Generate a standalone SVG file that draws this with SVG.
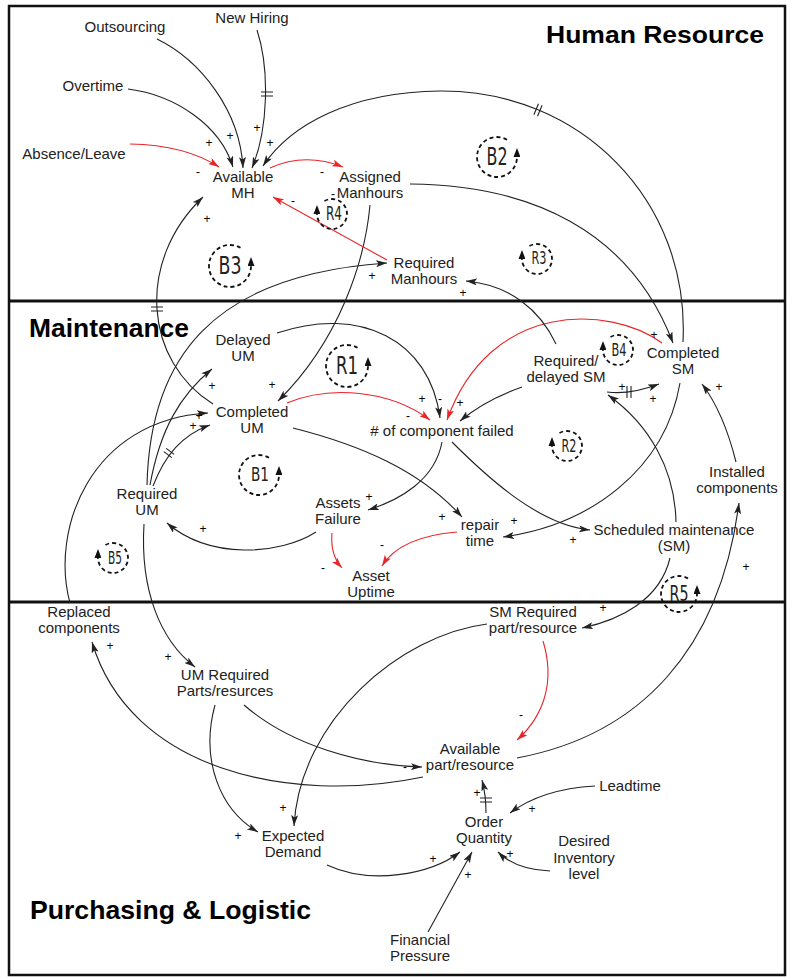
<svg xmlns="http://www.w3.org/2000/svg" width="794" height="977" viewBox="0 0 794 977">
<style>
.t{font-family:'Liberation Sans',Arial,sans-serif;font-size:15px;fill:#222;text-anchor:middle}
.h{font-family:'Liberation Sans',Arial,sans-serif;font-weight:bold;fill:#000}
.s{font-family:'Liberation Sans',Arial,sans-serif;font-size:12px;fill:#000;text-anchor:middle}
.c{fill:none;stroke:#222;stroke-width:1.1;marker-end:url(#ah)}
.r{fill:none;stroke:#e8262a;stroke-width:1.1;marker-end:url(#ahr)}
.d{fill:none;stroke:#222;stroke-width:1.1}
.lp{fill:none;stroke:#111;stroke-width:1.8;stroke-dasharray:4 3;marker-end:url(#al)}
.ll{font-family:'DejaVu Sans',sans-serif;fill:#222;text-anchor:middle}
</style>
<defs>
<marker id="ah" viewBox="0 0 11 7" refX="11" refY="3.5" markerWidth="11" markerHeight="7" markerUnits="userSpaceOnUse" orient="auto"><path d="M0,0 L11,3.5 L0,7 L2.5,3.5 z" fill="#222"/></marker>
<marker id="ahr" viewBox="0 0 11 7" refX="11" refY="3.5" markerWidth="11" markerHeight="7" markerUnits="userSpaceOnUse" orient="auto"><path d="M0,0 L11,3.5 L0,7 L2.5,3.5 z" fill="#e8262a"/></marker>
<marker id="al" viewBox="0 0 9 7" refX="0" refY="3.5" markerWidth="9" markerHeight="7" markerUnits="userSpaceOnUse" orient="auto"><path d="M0,0 L9,3.5 L0,7 z" fill="#111"/></marker>
</defs>
<rect width="794" height="977" fill="#fff"/>
<g id="frames" fill="none" stroke="#111">
<rect x="9" y="6" width="776" height="969" stroke-width="2.5"/>
<line x1="9" y1="301" x2="785" y2="301" stroke-width="3"/>
<line x1="9" y1="602" x2="785" y2="602" stroke-width="3"/>
</g>
<g id="titles">
<text class="h" x="546" y="43" font-size="23" textLength="218" lengthAdjust="spacingAndGlyphs">Human Resource</text>
<text class="h" x="29" y="337" font-size="25" textLength="160" lengthAdjust="spacingAndGlyphs">Maintenance</text>
<text class="h" x="30" y="919" font-size="25" textLength="281" lengthAdjust="spacingAndGlyphs">Purchasing &amp; Logistic</text>
</g>
<g id="connectors">
<path class="c" d="M157,39 C200,60 240,110 243,168"/>
<path class="c" d="M257,30 C270,70 268,130 252,168"/>
<path class="c" d="M128,89 C175,95 220,125 233,167"/>
<path class="c" d="M683,342 C690,200 580,90 440,91 C350,92 290,125 263,166"/>
<path class="c" d="M410,184 C530,185 630,230 673,343"/>
<path class="c" d="M370,205 C365,260 340,340 278,401"/>
<path class="r" d="M387,260 L273,197"/>
<path class="r" d="M270,168 Q305,152 343,167"/>
<path class="r" d="M130,144 Q185,145 219,167"/>
<path class="c" d="M213,404 C145,362 135,262 203,197"/>
<path class="c" d="M147,485 C150,360 210,275 387,263"/>
<path class="c" d="M150,485 C160,430 180,395 212,369"/>
<path class="c" d="M153,486 C165,455 182,435 210,425"/>
<path class="c" d="M70,603 C50,530 90,420 208,413"/>
<path class="c" d="M277,333 C360,305 430,340 440,418"/>
<path class="r" d="M287,403 C330,385 390,390 430,420"/>
<path class="r" d="M662,343 C610,305 490,300 447,420"/>
<path class="c" d="M522,387 Q485,400 460,421"/>
<path class="c" d="M442,442 C435,480 400,500 368,510"/>
<path class="c" d="M452,442 C490,480 540,525 590,530"/>
<path class="c" d="M293,428 C360,445 420,470 462,517"/>
<path class="c" d="M680,383 C665,470 590,525 503,537"/>
<path class="c" d="M316,532 C280,555 210,560 167,523"/>
<path class="r" d="M332,533 Q330,555 342,568"/>
<path class="r" d="M457,532 C420,535 395,545 382,566"/>
<path class="c" d="M607,392 Q630,395 659,384"/>
<path class="c" d="M676,522 C675,470 650,425 608,395"/>
<path class="c" d="M670,558 C660,600 620,620 582,628"/>
<path class="c" d="M736,462 C728,430 718,405 702,384"/>
<path class="c" d="M517,758 C640,735 720,650 739,503"/>
<path class="r" d="M543,641 C555,680 545,715 517,740"/>
<path class="c" d="M487,624 C400,635 300,720 294,826"/>
<path class="c" d="M215,705 C200,760 220,810 258,832"/>
<path class="c" d="M244,705 C290,745 360,765 422,767"/>
<path class="c" d="M423,777 C290,805 130,770 92,642"/>
<path class="c" d="M144,524 C140,590 160,640 195,667"/>
<path class="c" d="M486,813 Q486,795 482,780"/>
<path class="c" d="M595,786 C560,788 530,798 510,813"/>
<path class="c" d="M550,871 C525,870 508,862 498,852"/>
<path class="c" d="M428,932 L472,852"/>
<path class="c" d="M327,865 C370,885 430,875 460,852"/>
<path class="c" d="M556,344 C540,310 510,285 466,281"/>
<path class="d" d="M261,92 H273 M261,96 H273"/>
<path class="d" d="M538.5,103.7 L533.9,114.7 M542.1,105.3 L537.5,116.3"/>
<path class="d" d="M151,307 H163 M151,311 H163"/>
<path class="d" d="M163.8,451.6 L171.8,457.6 M166.2,448.4 L174.2,454.4"/>
<path class="d" d="M627,386 V398 M631,386 V398"/>
<path class="d" d="M480,798 H492 M480,802 H492"/>
</g>
<g id="signs">
<text class="s" x="209" y="147">+</text>
<text class="s" x="230" y="140">+</text>
<text class="s" x="257" y="132">+</text>
<text class="s" x="270" y="147">+</text>
<text class="s" x="198" y="176">-</text>
<text class="s" x="322" y="176">-</text>
<text class="s" x="293" y="205">-</text>
<text class="s" x="333" y="198">-</text>
<text class="s" x="207" y="223">+</text>
<text class="s" x="372" y="280">+</text>
<text class="s" x="463" y="297">+</text>
<text class="s" x="212" y="390">+</text>
<text class="s" x="272" y="389">+</text>
<text class="s" x="199" y="420">+</text>
<text class="s" x="193" y="430">+</text>
<text class="s" x="422" y="403">+</text>
<text class="s" x="440" y="403">-</text>
<text class="s" x="460" y="407">+</text>
<text class="s" x="408" y="420">-</text>
<text class="s" x="654" y="339">+</text>
<text class="s" x="622" y="391">+</text>
<text class="s" x="653" y="403">+</text>
<text class="s" x="719" y="391">+</text>
<text class="s" x="369" y="501">+</text>
<text class="s" x="203" y="533">+</text>
<text class="s" x="323" y="572">-</text>
<text class="s" x="382" y="549">-</text>
<text class="s" x="442" y="521">+</text>
<text class="s" x="514" y="525">+</text>
<text class="s" x="573" y="544">+</text>
<text class="s" x="746" y="571">+</text>
<text class="s" x="110" y="650">+</text>
<text class="s" x="168" y="661">+</text>
<text class="s" x="603" y="612">+</text>
<text class="s" x="521" y="719">-</text>
<text class="s" x="405" y="771">-</text>
<text class="s" x="283" y="812">+</text>
<text class="s" x="238" y="840">+</text>
<text class="s" x="477" y="797">+</text>
<text class="s" x="532" y="813">+</text>
<text class="s" x="510" y="858">+</text>
<text class="s" x="433" y="863">+</text>
<text class="s" x="468" y="879">+</text>
</g>
<g id="loops">
<g id="loop-B2"><path class="lp" d="M507,139.7 A20,20 0 1 0 517,157"/><text class="ll" x="497" y="165" font-size="24" textLength="21" lengthAdjust="spacingAndGlyphs">B2</text></g>
<g id="loop-R4"><path class="lp" d="M324.5,201 A15,15 0 1 1 317,214"/><text class="ll" x="334" y="220" font-size="20" textLength="16" lengthAdjust="spacingAndGlyphs">R4</text></g>
<g id="loop-B3"><path class="lp" d="M240.5,247.8 A21,21 0 1 0 251,266"/><text class="ll" x="230" y="274" font-size="25" textLength="23" lengthAdjust="spacingAndGlyphs">B3</text></g>
<g id="loop-R3"><path class="lp" d="M529.5,246 A15,15 0 1 1 522,259"/><text class="ll" x="539" y="264" font-size="18" textLength="15" lengthAdjust="spacingAndGlyphs">R3</text></g>
<g id="loop-R1"><path class="lp" d="M357.5,347.8 A21,21 0 1 0 368,366"/><text class="ll" x="347" y="374" font-size="25" textLength="22" lengthAdjust="spacingAndGlyphs">R1</text></g>
<g id="loop-B1"><path class="lp" d="M269,457.7 A20,20 0 1 0 279,475"/><text class="ll" x="260" y="481" font-size="19" textLength="18" lengthAdjust="spacingAndGlyphs">B1</text></g>
<g id="loop-B5"><path class="lp" d="M105.5,545 A15,15 0 1 1 98,558"/><text class="ll" x="115" y="564" font-size="17" textLength="14" lengthAdjust="spacingAndGlyphs">B5</text></g>
<g id="loop-B4"><path class="lp" d="M610.5,337 A15,15 0 1 1 603,350"/><text class="ll" x="619" y="356" font-size="18" textLength="15" lengthAdjust="spacingAndGlyphs">B4</text></g>
<g id="loop-R2"><path class="lp" d="M559.5,433 A15,15 0 1 1 552,446"/><text class="ll" x="569" y="452" font-size="18" textLength="15" lengthAdjust="spacingAndGlyphs">R2</text></g>
<g id="loop-R5"><path class="lp" d="M688,578.4 A18,18 0 1 0 697,594"/><text class="ll" x="679" y="601" font-size="21" textLength="19" lengthAdjust="spacingAndGlyphs">R5</text></g>
</g>
<g id="nodes">
<g id="n-outsourcing"><text class="t" x="125" y="32">Outsourcing</text></g>
<g id="n-newhiring"><text class="t" x="252" y="23">New Hiring</text></g>
<g id="n-overtime"><text class="t" x="93" y="91">Overtime</text></g>
<g id="n-absence"><text class="t" x="74" y="159">Absence/Leave</text></g>
<g id="n-availmh"><text class="t" x="243" y="182">Available</text><text class="t" x="243" y="198">MH</text></g>
<g id="n-assigned"><text class="t" x="370" y="182">Assigned</text><text class="t" x="370" y="198">Manhours</text></g>
<g id="n-reqmh"><text class="t" x="424" y="268">Required</text><text class="t" x="424" y="284">Manhours</text></g>
<g id="n-delayedum"><text class="t" x="243" y="345">Delayed</text><text class="t" x="243" y="361">UM</text></g>
<g id="n-completedum"><text class="t" x="252" y="417">Completed</text><text class="t" x="252" y="433">UM</text></g>
<g id="n-requm"><text class="t" x="147" y="499">Required</text><text class="t" x="147" y="515">UM</text></g>
<g id="n-ncf"><text class="t" x="442" y="436"># of component failed</text></g>
<g id="n-assetsfail"><text class="t" x="338" y="508">Assets</text><text class="t" x="338" y="524">Failure</text></g>
<g id="n-uptime"><text class="t" x="371" y="581">Asset</text><text class="t" x="371" y="597">Uptime</text></g>
<g id="n-repair"><text class="t" x="480" y="530">repair</text><text class="t" x="480" y="546">time</text></g>
<g id="n-reqdelsm"><text class="t" x="566" y="366">Required/</text><text class="t" x="566" y="382">delayed SM</text></g>
<g id="n-compsm"><text class="t" x="683" y="358">Completed</text><text class="t" x="683" y="374">SM</text></g>
<g id="n-installed"><text class="t" x="737" y="477">Installed</text><text class="t" x="737" y="493">components</text></g>
<g id="n-sm"><text class="t" x="674" y="535">Scheduled maintenance</text><text class="t" x="674" y="551">(SM)</text></g>
<g id="n-replaced"><text class="t" x="79" y="617">Replaced</text><text class="t" x="79" y="633">components</text></g>
<g id="n-umreq"><text class="t" x="225" y="680">UM Required</text><text class="t" x="225" y="696">Parts/resurces</text></g>
<g id="n-smreq"><text class="t" x="533" y="617">SM Required</text><text class="t" x="533" y="633">part/resource</text></g>
<g id="n-availpart"><text class="t" x="470" y="754">Available</text><text class="t" x="470" y="770">part/resource</text></g>
<g id="n-expdem"><text class="t" x="293" y="841">Expected</text><text class="t" x="293" y="857">Demand</text></g>
<g id="n-order"><text class="t" x="484" y="827">Order</text><text class="t" x="484" y="843">Quantity</text></g>
<g id="n-leadtime"><text class="t" x="630" y="791">Leadtime</text></g>
<g id="n-desired"><text class="t" x="584" y="846">Desired</text><text class="t" x="584" y="863">Inventory</text><text class="t" x="584" y="879">level</text></g>
<g id="n-financial"><text class="t" x="420" y="945">Financial</text><text class="t" x="420" y="961">Pressure</text></g>
</g>
</svg>
